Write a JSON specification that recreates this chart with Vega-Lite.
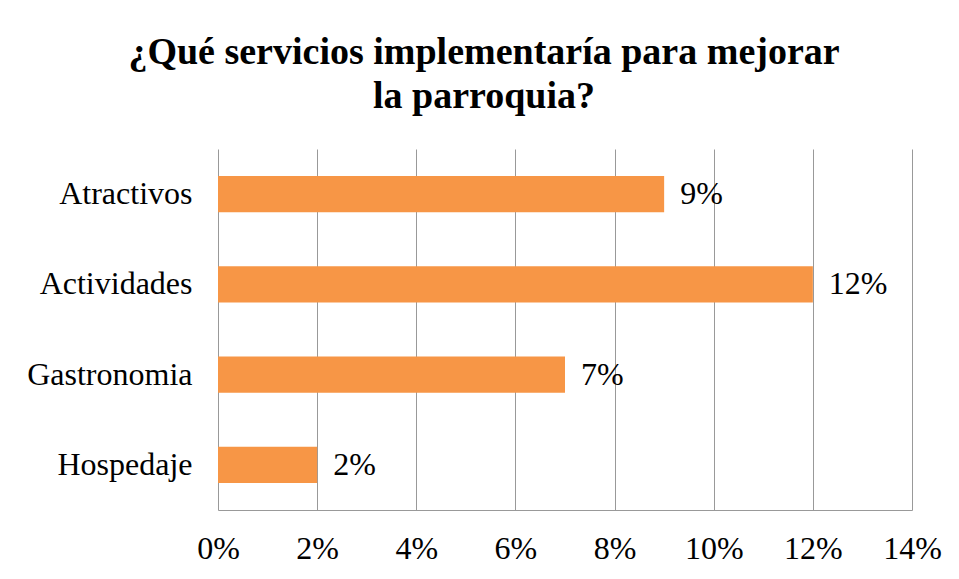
{
  "$schema": "https://vega.github.io/schema/vega-lite/v6.json",
  "autosize": {"type": "none"},
  "width": 694,
  "height": 361,
  "padding": {"left": 218, "top": 149, "right": 47, "bottom": 69},
  "background": "white",
  "title": {
    "text": ["¿Qué servicios implementaría para mejorar", "la parroquia?"],
    "font": "Liberation Serif",
    "fontSize": 38,
    "fontWeight": "bold",
    "color": "black",
    "anchor": "middle",
    "frame": "bounds",
    "offset": 33,
    "lineHeight": 44
  },
  "data": {
    "values": [
      {"servicio": "Atractivos", "valor": 0.09, "etiqueta": "9%"},
      {"servicio": "Actividades", "valor": 0.12, "etiqueta": "12%"},
      {"servicio": "Gastronomia", "valor": 0.07, "etiqueta": "7%"},
      {"servicio": "Hospedaje", "valor": 0.02, "etiqueta": "2%"}
    ]
  },
  "encoding": {
    "y": {
      "field": "servicio",
      "type": "nominal",
      "sort": null,
      "scale": {"paddingInner": 0.6, "paddingOuter": 0.3},
      "axis": {
        "title": null,
        "domain": false,
        "ticks": false,
        "labelPadding": 26,
        "labelFont": "Liberation Serif",
        "labelFontSize": 32,
        "labelColor": "black"
      }
    },
    "x": {
      "field": "valor",
      "type": "quantitative",
      "scale": {"domain": [0, 0.14], "nice": false},
      "axis": {
        "title": null,
        "format": ".0%",
        "values": [0, 0.02, 0.04, 0.06, 0.08, 0.1, 0.12, 0.14],
        "grid": true,
        "gridColor": "#999999",
        "gridOpacity": 1,
        "gridWidth": 1,
        "domain": true,
        "domainColor": "#999999",
        "ticks": false,
        "labelPadding": 23,
        "labelFont": "Liberation Serif",
        "labelFontSize": 32,
        "labelColor": "black",
        "labelFlush": false
      }
    }
  },
  "layer": [
    {"mark": {"type": "bar", "color": "#F79646"}},
    {
      "mark": {
        "type": "text",
        "align": "left",
        "baseline": "middle",
        "dx": 16,
        "font": "Liberation Serif",
        "fontSize": 32,
        "color": "black"
      },
      "encoding": {"text": {"field": "etiqueta"}}
    }
  ],
  "config": {"view": {"stroke": null}}
}
